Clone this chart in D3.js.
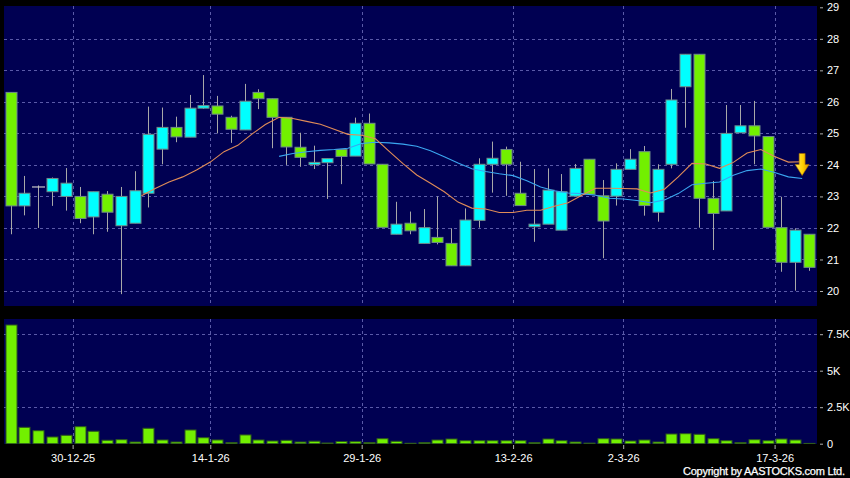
<!DOCTYPE html>
<html><head><meta charset="utf-8">
<script src="https://cdn.jsdelivr.net/npm/d3@7"></script>
<style>html,body{margin:0;padding:0;background:#000;} svg{display:block;}</style>
</head><body>
<svg id="c" width="850" height="478"></svg>
<script>
// ---------- data ----------
const dates = ["19-12-25","22-12-25","23-12-25","24-12-25","29-12-25","30-12-25","31-12-25",
 "2-1-26","5-1-26","6-1-26","7-1-26","8-1-26","9-1-26","12-1-26","13-1-26","14-1-26","15-1-26","16-1-26",
 "19-1-26","20-1-26","21-1-26","22-1-26","23-1-26","26-1-26","27-1-26","28-1-26","29-1-26","30-1-26",
 "2-2-26","3-2-26","4-2-26","5-2-26","6-2-26","9-2-26","10-2-26","11-2-26","12-2-26","13-2-26","16-2-26",
 "20-2-26","23-2-26","24-2-26","25-2-26","26-2-26","27-2-26","2-3-26","3-3-26","4-3-26","5-3-26","6-3-26",
 "9-3-26","10-3-26","11-3-26","12-3-26","13-3-26","16-3-26","17-3-26","18-3-26","19-3-26"];
const openP  = [26.30,22.70,23.30,23.15,23.00,23.00,22.35,23.07,22.07,22.15,23.10,24.50,25.19,24.88,25.80,25.87,25.51,25.11,26.30,26.10,
 25.51,24.56,24.01,24.07,24.49,24.28,25.32,24.02,21.80,22.15,21.51,21.70,21.51,20.80,22.24,24.02,24.49,23.10,22.04,22.12,
 21.93,23.01,24.18,23.02,23.01,23.86,24.42,22.50,24.02,26.48,27.51,22.94,22.54,25.02,25.24,24.90,22.01,20.91,21.80];
const highP  = [26.30,23.65,23.35,23.60,23.90,23.30,23.15,23.17,23.30,23.80,25.85,25.82,25.53,26.22,26.85,26.19,25.56,26.57,26.40,26.10,
 25.51,25.02,24.61,24.20,24.49,25.50,25.63,24.02,22.83,22.52,22.60,23.00,21.99,22.62,24.21,24.74,24.58,24.10,23.87,23.89,
 23.71,24.03,24.18,23.52,24.05,24.50,24.60,24.02,26.41,27.51,27.51,23.49,25.90,25.90,26.03,24.90,22.99,21.99,21.80];
const lowP   = [21.80,22.40,22.00,22.70,22.55,22.15,21.80,21.88,19.90,22.15,22.65,24.02,24.72,24.88,25.78,25.00,24.70,25.11,25.77,24.53,
 24.00,23.94,23.87,22.92,23.39,24.28,24.03,22.02,21.80,21.80,21.51,21.48,20.80,20.80,22.01,23.12,23.02,22.71,21.56,22.12,
 21.93,23.01,23.07,21.04,22.71,23.86,22.39,22.20,23.89,25.18,22.01,21.30,22.54,25.02,24.02,22.02,20.61,20.01,20.64];
const closeP = [22.70,23.10,23.30,23.57,23.42,22.30,23.15,22.50,23.00,23.18,24.97,25.19,24.89,25.80,25.88,25.61,25.13,26.02,26.10,25.51,
 24.57,24.24,24.08,24.20,24.27,25.32,24.03,22.02,22.12,21.91,22.01,21.54,20.80,22.25,24.02,24.21,24.02,22.71,22.12,23.20,
 23.15,23.89,23.07,22.22,23.86,24.18,22.71,23.86,26.06,27.51,22.94,22.46,25.00,25.24,24.92,22.02,20.91,21.93,20.75];
const volume = [8130,1120,890,460,575,1165,850,235,275,115,1055,255,115,940,410,255,80,600,255,185,
 230,116,170,48,150,140,80,342,164,30,80,253,322,205,205,205,205,205,80,322,
 205,116,40,342,322,185,253,116,664,685,644,342,205,80,274,205,322,253,20];
const ma10 = Array(9).fill(null).concat([23.02,23.25,23.46,23.62,23.84,24.09,24.42,24.62,24.97,25.28,25.51,25.47,25.38,25.29,25.13,
 24.97,24.94,24.83,24.43,24.04,23.68,23.42,23.15,22.82,22.63,22.60,22.49,22.49,22.56,22.56,22.69,22.80,23.04,23.26,23.26,
 23.25,23.24,23.11,23.23,23.62,24.05,24.03,23.89,24.08,24.38,24.49,24.27,24.09,24.10]).concat([null]);
const ma20 = Array(19).fill(null).concat([24.27,24.36,24.42,24.46,24.49,24.53,24.68,24.72,24.70,24.66,24.59,24.45,24.26,24.06,23.88,
 23.79,23.72,23.66,23.50,23.30,23.18,23.11,23.09,23.04,22.94,22.92,22.87,22.80,22.89,23.09,23.37,23.42,23.46,23.67,23.82,
 23.87,23.76,23.62,23.57]).concat([null]);
const priceTicks = [20,21,22,23,24,25,26,27,28,29];
const volTicks = [0,2500,5000,7500];
const volTickLabels = ["0","2.5K","5K","7.5K"];
const dateLabels = ["30-12-25","14-1-26","29-1-26","13-2-26","2-3-26","17-3-26"];

// ---------- layout ----------
const svg = d3.select("#c");
const plotL = 4, plotR = 817;
const pTop = 6, pBot = 306, vTop = 319, vBot = 444;
const FONT = "Arial, 'Liberation Sans', sans-serif";
const UP = "#00ffff", DOWN = "#72f000", NAVY = "#000052", GRID = "#5a5aa8";

const x = d3.scaleBand().domain(dates).range([3.82, 815.9]).padding(0);
const step = x.step();
const cx = d => x(d) + step / 2;
const y = d3.scaleLinear().domain([20, 29]).range([291, 7.3]);
const yv = d3.scaleLinear().domain([0, 7500]).range([443.7, 334.2]);

svg.append("rect").attr("width", 850).attr("height", 478).attr("fill", "#000");
svg.append("rect").attr("x", plotL).attr("y", pTop).attr("width", plotR - plotL).attr("height", pBot - pTop).attr("fill", NAVY);
svg.append("rect").attr("x", plotL).attr("y", vTop).attr("width", plotR - plotL).attr("height", vBot - vTop).attr("fill", NAVY);

const defs = svg.append("defs");
defs.append("clipPath").attr("id", "cp").append("rect").attr("x", plotL).attr("y", pTop).attr("width", plotR - plotL).attr("height", pBot - pTop);
defs.append("clipPath").attr("id", "cv").append("rect").attr("x", plotL).attr("y", vTop).attr("width", plotR - plotL).attr("height", vBot - vTop);
const grad = defs.append("linearGradient").attr("id", "ag").attr("x1", 0).attr("x2", 1).attr("y1", 0).attr("y2", 0);
grad.append("stop").attr("offset", "0%").attr("stop-color", "#ffe860");
grad.append("stop").attr("offset", "55%").attr("stop-color", "#ffd000");
grad.append("stop").attr("offset", "100%").attr("stop-color", "#d89000");

// grids
const gp = svg.append("g").attr("clip-path", "url(#cp)");
gp.selectAll("line.h").data(priceTicks.filter(t => y(t) > pTop + 3)).join("line")
  .attr("x1", plotL).attr("x2", plotR).attr("y1", d => Math.round(y(d)) + 0.5).attr("y2", d => Math.round(y(d)) + 0.5)
  .attr("stroke", GRID).attr("stroke-dasharray", "3,3");
gp.selectAll("line.v").data(dateLabels).join("line")
  .attr("x1", d => Math.round(x(d)) + 0.5).attr("x2", d => Math.round(x(d)) + 0.5).attr("y1", pTop).attr("y2", pBot)
  .attr("stroke", GRID).attr("stroke-dasharray", "3,3");
const gv = svg.append("g").attr("clip-path", "url(#cv)");
gv.selectAll("line.h").data(volTicks.slice(1)).join("line")
  .attr("x1", plotL).attr("x2", plotR).attr("y1", d => Math.round(yv(d)) + 0.5).attr("y2", d => Math.round(yv(d)) + 0.5)
  .attr("stroke", GRID).attr("stroke-dasharray", "3,3");
gv.selectAll("line.v").data(dateLabels).join("line")
  .attr("x1", d => Math.round(x(d)) + 0.5).attr("x2", d => Math.round(x(d)) + 0.5).attr("y1", vTop).attr("y2", vBot)
  .attr("stroke", GRID).attr("stroke-dasharray", "3,3");

// candles
const idx = d3.range(dates.length);
const cg = svg.append("g").attr("clip-path", "url(#cp)");
cg.selectAll("line.w").data(idx).join("line")
  .attr("x1", i => Math.round(cx(dates[i])) + 0.5).attr("x2", i => Math.round(cx(dates[i])) + 0.5)
  .attr("y1", i => y(highP[i])).attr("y2", i => y(lowP[i]))
  .attr("stroke", "#a8a8a8").attr("stroke-width", 1);
const bodies = idx.filter(i => openP[i] !== closeP[i]);
cg.selectAll("rect.b").data(bodies).join("rect")
  .attr("x", i => Math.round(cx(dates[i])) - 5.5 + 0.5)
  .attr("width", 11)
  .attr("y", i => y(Math.max(openP[i], closeP[i])))
  .attr("height", i => Math.max(1.5, Math.abs(y(openP[i]) - y(closeP[i]))))
  .attr("fill", i => closeP[i] > openP[i] ? UP : DOWN)
  .attr("stroke", "#6f8a8a").attr("stroke-width", 1);
cg.selectAll("line.d").data(idx.filter(i => openP[i] === closeP[i])).join("line")
  .attr("x1", i => Math.round(cx(dates[i])) - 6).attr("x2", i => Math.round(cx(dates[i])) + 7)
  .attr("y1", i => y(openP[i])).attr("y2", i => y(openP[i]))
  .attr("stroke", "#c8c8c8").attr("stroke-width", 1.2);

// moving averages (plotted at right edge of each candle slot)
const mk = arr => d3.line().defined(i => arr[i] != null).x(i => x(dates[i]) + step).y(i => y(arr[i]));
cg.append("path").attr("d", mk(ma20)(idx)).attr("fill", "none").attr("stroke", "#3aa6f0").attr("stroke-width", 1.1);
cg.append("path").attr("d", mk(ma10)(idx)).attr("fill", "none").attr("stroke", "#e08c58").attr("stroke-width", 1.1);

// arrow marker at last MA point
const lastI = 57;
const ax = x(dates[lastI]) + step, ty = y(ma20[lastI]) - 3;
svg.append("path")
  .attr("d", `M${ax-3},${ty-22} L${ax+3},${ty-22} L${ax+3},${ty-11} L${ax+7},${ty-11} L${ax},${ty} L${ax-7},${ty-11} L${ax-3},${ty-11} Z`)
  .attr("fill", "url(#ag)").attr("stroke", "#a86a00").attr("stroke-width", 0.6);

// volume bars
gv.selectAll("rect.v").data(idx).join("rect")
  .attr("x", i => Math.round(cx(dates[i])) - 5.5 + 0.5)
  .attr("width", 11)
  .attr("y", i => yv(volume[i]))
  .attr("height", i => Math.max(0.6, yv(0) - yv(volume[i])))
  .attr("fill", DOWN).attr("stroke", "#2e5a1c").attr("stroke-width", 1);

// axes
function styleAxis(g) {
  g.select(".domain").remove();
  g.selectAll(".tick line").attr("stroke", "#b0b0b0");
  g.selectAll(".tick text").attr("fill", "#fff").style("font-family", FONT).style("font-size", "11px");
}
svg.append("g").attr("transform", `translate(820,0)`)
  .call(d3.axisRight(y).tickValues(priceTicks).tickFormat(d3.format("d")).tickSize(3).tickPadding(4))
  .call(styleAxis);
svg.append("g").attr("transform", `translate(820,0)`)
  .call(d3.axisRight(yv).tickValues(volTicks).tickFormat((d, i) => volTickLabels[i]).tickSize(3).tickPadding(4))
  .call(styleAxis);
svg.append("g").attr("transform", `translate(${-step/2 + 0.5},445)`)
  .call(d3.axisBottom(x).tickValues(dateLabels).tickSize(4).tickPadding(5))
  .call(styleAxis);

svg.append("text").attr("x", 683).attr("y", 474.5)
  .attr("textLength", 162).attr("lengthAdjust", "spacing")
  .attr("fill", "#fff").attr("stroke", "#fff").attr("stroke-width", 0.25)
  .style("font-family", FONT).style("font-size", "11px")
  .text("Copyright by AASTOCKS.com Ltd.");
</script>
</body></html>
